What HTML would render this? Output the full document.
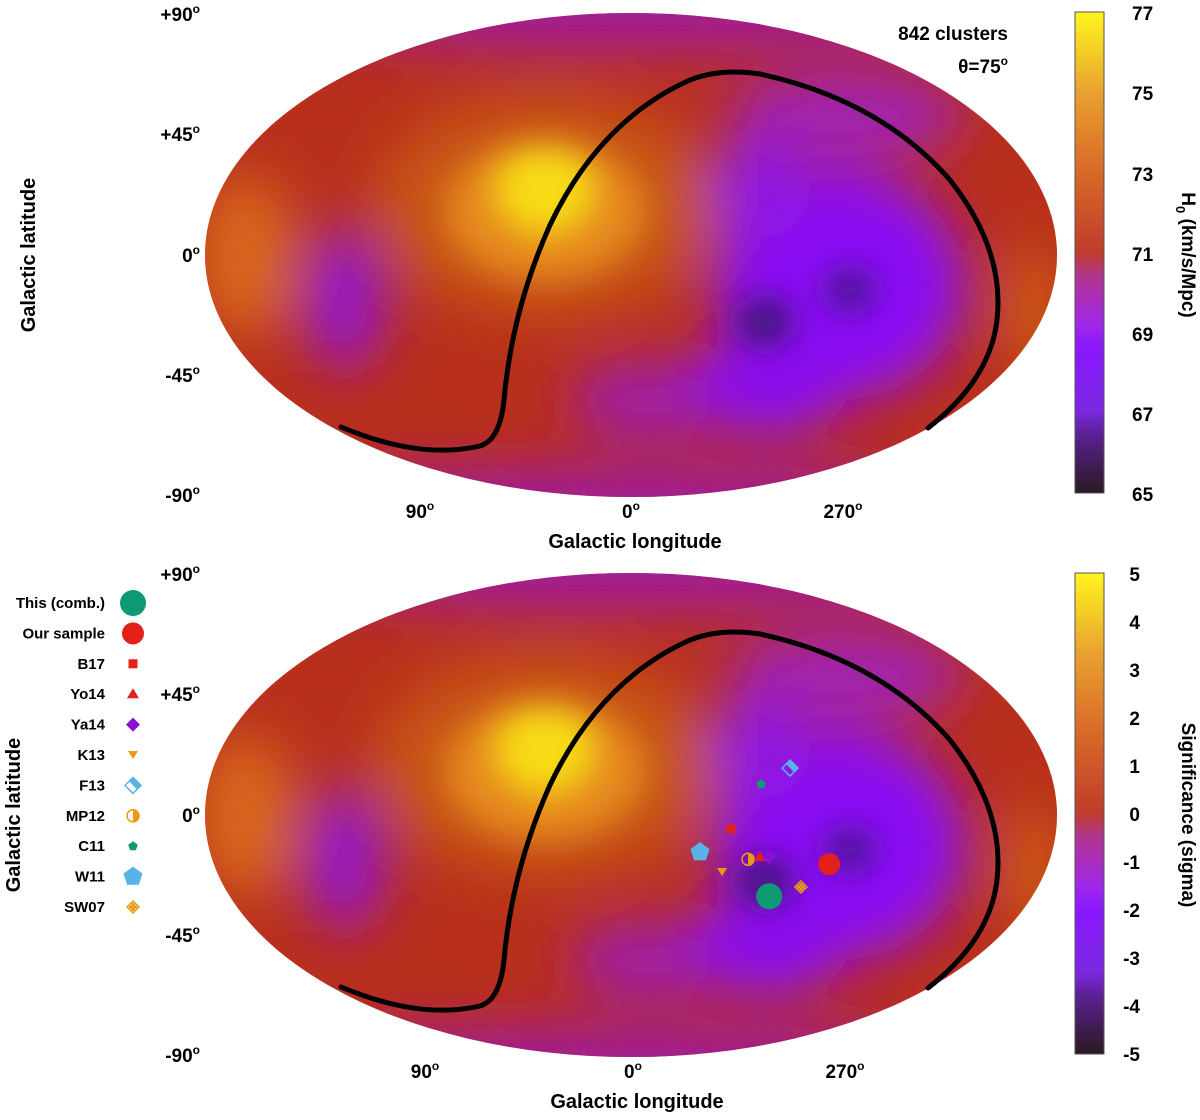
<!DOCTYPE html>
<html><head><meta charset="utf-8">
<style>
html,body{margin:0;padding:0;background:#fff;}
svg{display:block;font-family:"Liberation Sans",Arial,sans-serif;font-weight:bold;}
</style></head>
<body>
<svg id="fig" width="1200" height="1120" viewBox="0 0 1200 1120" xmlns="http://www.w3.org/2000/svg">
<defs>
  <clipPath id="ell"><ellipse cx="631" cy="255" rx="426" ry="242"/></clipPath>
  <filter id="bl" filterUnits="userSpaceOnUse" x="0" y="-200" width="1300" height="900"><feGaussianBlur stdDeviation="26"/></filter>
  <filter id="bl2" filterUnits="userSpaceOnUse" x="0" y="-200" width="1300" height="900"><feGaussianBlur stdDeviation="16"/></filter>
  <linearGradient id="cb" x1="0" y1="1" x2="0" y2="0">
    <stop offset="0" stop-color="#2a1a22"/>
    <stop offset="0.12" stop-color="#5a2090"/>
    <stop offset="0.17" stop-color="#7a28e0"/>
    <stop offset="0.3" stop-color="#8a18ff"/>
    <stop offset="0.35" stop-color="#a028e8"/>
    <stop offset="0.45" stop-color="#b03490"/>
    <stop offset="0.5" stop-color="#c03c2c"/>
    <stop offset="0.67" stop-color="#d86a28"/>
    <stop offset="0.83" stop-color="#e8a030"/>
    <stop offset="1" stop-color="#fff51e"/>
  </linearGradient>
  <g id="sky">
    <g clip-path="url(#ell)">
      <rect x="190" y="0" width="880" height="510" fill="#b8301c"/>
      <g filter="url(#bl)">
        <ellipse cx="631" cy="5" rx="430" ry="45" fill="#a01a98"/>
        <ellipse cx="631" cy="510" rx="430" ry="45" fill="#a01a98"/>
        <ellipse cx="845" cy="115" rx="120" ry="45" fill="#a020b0"/>
        <ellipse cx="245" cy="255" rx="50" ry="80" fill="#d8661c"/>
        <ellipse cx="1035" cy="310" rx="25" ry="65" fill="#d06018"/>
        <ellipse cx="545" cy="205" rx="170" ry="110" fill="#c85418"/>
        <ellipse cx="345" cy="300" rx="40" ry="72" fill="#9614c8"/>
        <ellipse cx="650" cy="400" rx="80" ry="40" fill="#a01aa8"/>
        <ellipse cx="840" cy="285" rx="125" ry="115" fill="#8a10f4"/>
        <ellipse cx="770" cy="385" rx="80" ry="50" fill="#8a10f0"/>
        <ellipse cx="760" cy="190" rx="50" ry="50" fill="#9014e0"/>
      </g>
      <g filter="url(#bl2)">
        <ellipse cx="545" cy="210" rx="100" ry="70" fill="#e68a1e"/>
        <ellipse cx="545" cy="190" rx="48" ry="42" fill="#f8dc18"/>
        <ellipse cx="765" cy="322" rx="28" ry="24" fill="#3e1470"/>
        <ellipse cx="850" cy="290" rx="26" ry="22" fill="#4a1490"/>
      </g>
    </g>
    <path d="M341,427 Q420,460 480,446 Q500,440 504,400 Q512,310 550,225 Q600,120 690,80 Q720,68 760,74 Q880,100 950,180 Q1005,250 997,320 Q990,380 928,428" fill="none" stroke="#000" stroke-width="5" stroke-linecap="round"/>
  </g>
</defs>

<g><use href="#sky"/></g>
<g><use href="#sky" transform="translate(0,560)"/></g>

<g font-size="19" text-anchor="end">
  <text x="200" y="21">+90<tspan dy="-8" font-size="12">o</tspan></text>
  <text x="200" y="141">+45<tspan dy="-8" font-size="12">o</tspan></text>
  <text x="200" y="262">0<tspan dy="-8" font-size="12">o</tspan></text>
  <text x="200" y="382">-45<tspan dy="-8" font-size="12">o</tspan></text>
  <text x="200" y="502">-90<tspan dy="-8" font-size="12">o</tspan></text>
</g>
<g font-size="19" text-anchor="middle">
  <text x="420" y="518">90<tspan dy="-8" font-size="12">o</tspan></text>
  <text x="631" y="518">0<tspan dy="-8" font-size="12">o</tspan></text>
  <text x="843" y="518">270<tspan dy="-8" font-size="12">o</tspan></text>
</g>
<text x="635" y="548" font-size="20" text-anchor="middle">Galactic longitude</text>
<text transform="translate(35,255) rotate(-90)" font-size="20" text-anchor="middle">Galactic latitude</text>
<text x="1008" y="40" font-size="19" text-anchor="end">842 clusters</text>
<text x="1008" y="73" font-size="19" text-anchor="end">θ=75<tspan dy="-8" font-size="12">o</tspan></text>

<rect x="1075" y="12" width="29" height="481" fill="url(#cb)" stroke="#555" stroke-width="1"/>
<g font-size="19">
  <text x="1132" y="20">77</text><text x="1132" y="100">75</text><text x="1132" y="181">73</text>
  <text x="1132" y="261">71</text><text x="1132" y="341">69</text><text x="1132" y="421">67</text><text x="1132" y="501">65</text>
</g>
<text transform="translate(1182,255) rotate(90)" font-size="19" text-anchor="middle">H<tspan dy="6" font-size="13">0</tspan><tspan dy="-6"> (km/s/Mpc)</tspan></text>

<g font-size="19" text-anchor="end">
  <text x="200" y="581">+90<tspan dy="-8" font-size="12">o</tspan></text>
  <text x="200" y="701">+45<tspan dy="-8" font-size="12">o</tspan></text>
  <text x="200" y="822">0<tspan dy="-8" font-size="12">o</tspan></text>
  <text x="200" y="942">-45<tspan dy="-8" font-size="12">o</tspan></text>
  <text x="200" y="1062">-90<tspan dy="-8" font-size="12">o</tspan></text>
</g>
<g font-size="19" text-anchor="middle">
  <text x="425" y="1078">90<tspan dy="-8" font-size="12">o</tspan></text>
  <text x="633" y="1078">0<tspan dy="-8" font-size="12">o</tspan></text>
  <text x="845" y="1078">270<tspan dy="-8" font-size="12">o</tspan></text>
</g>
<text x="637" y="1108" font-size="20" text-anchor="middle">Galactic longitude</text>
<text transform="translate(20,815) rotate(-90)" font-size="20" text-anchor="middle">Galactic latitude</text>

<rect x="1075" y="573" width="29" height="481" fill="url(#cb)" stroke="#555" stroke-width="1"/>
<g font-size="19" text-anchor="end">
  <text x="1140" y="581">5</text><text x="1140" y="629">4</text><text x="1140" y="677">3</text><text x="1140" y="725">2</text>
  <text x="1140" y="773">1</text><text x="1140" y="821">0</text><text x="1140" y="869">-1</text><text x="1140" y="917">-2</text>
  <text x="1140" y="965">-3</text><text x="1140" y="1013">-4</text><text x="1140" y="1061">-5</text>
</g>
<text transform="translate(1182,815) rotate(90)" font-size="19" text-anchor="middle">Significance (sigma)</text>

<g id="legend"></g>
<g id="markers"></g>

<script>
const labels = ["This (comb.)","Our sample","B17","Yo14","Ya14","K13","F13","MP12","C11","W11","SW07"];
const lons = [298, 274.5, 317.7, 304.7, 300.8, 320.4, 291.5, 309.7, 304.6, 330.5, 284.8];
const lats = [-24.8, -14.9, -4.2, -12.7, -12.7, -17.3, 14.2, -13.4, 9.3, -11.2, -21.9];
const kinds = ["bigcircle","redcircle","square","triangle","diamond","downtri","halfdiamond","halfcircle","smallpent","bigpent","sw07"];

const NS = "http://www.w3.org/2000/svg";
const CX = 631, CY = 815, RX = 426, RY = 242;
function proj(lon, lat) {
  let l = lon > 180 ? lon - 360 : lon;
  const phi = lat * Math.PI / 180;
  let th = phi;
  for (let i = 0; i < 50; i++) {
    const f = 2*th + Math.sin(2*th) - Math.PI*Math.sin(phi);
    const d = 2 + 2*Math.cos(2*th);
    if (Math.abs(d) < 1e-9) break;
    th -= f / d;
  }
  return [CX - RX * (l/180) * Math.cos(th), CY - RY * Math.sin(th)];
}
function mk(tag, attrs) {
  const e = document.createElementNS(NS, tag);
  for (const k in attrs) e.setAttribute(k, attrs[k]);
  return e;
}
function pent(x, y, r) {
  let p = [];
  for (let i = 0; i < 5; i++) { const a = -Math.PI/2 + i*2*Math.PI/5; p.push((x + r*Math.cos(a)).toFixed(1) + "," + (y + r*Math.sin(a)).toFixed(1)); }
  return p.join(" ");
}
function drawMarker(g, kind, x, y) {
  switch (kind) {
    case "bigcircle": g.appendChild(mk("circle", {cx:x, cy:y, r:13, fill:"#0d9a73"})); break;
    case "redcircle": g.appendChild(mk("circle", {cx:x, cy:y, r:11, fill:"#e4201a"})); break;
    case "square": g.appendChild(mk("rect", {x:x-4.5, y:y-4.5, width:9, height:9, fill:"#e4201a"})); break;
    case "triangle": g.appendChild(mk("polygon", {points:`${x},${y-6} ${x+6},${y+4} ${x-6},${y+4}`, fill:"#e4201a"})); break;
    case "diamond": g.appendChild(mk("polygon", {points:`${x},${y-7} ${x+7},${y} ${x},${y+7} ${x-7},${y}`, fill:"#8a10d8"})); break;
    case "downtri": g.appendChild(mk("polygon", {points:`${x-5},${y-4} ${x+5},${y-4} ${x},${y+4}`, fill:"#e89a10"})); break;
    case "halfdiamond":
      g.appendChild(mk("polygon", {points:`${x},${y-8} ${x+8},${y} ${x},${y+8} ${x-8},${y}`, fill:"none", stroke:"#58b4e8", "stroke-width":1.5}));
      g.appendChild(mk("polygon", {points:`${x},${y-8} ${x+8},${y} ${x+4},${y+4} ${x-4},${y-4}`, fill:"#58b4e8"})); break;
    case "halfcircle":
      g.appendChild(mk("circle", {cx:x, cy:y, r:6, fill:"none", stroke:"#e89a10", "stroke-width":1.5}));
      g.appendChild(mk("path", {d:`M${x},${y-6} A6,6 0 0 1 ${x},${y+6} Z`, fill:"#e89a10"})); break;
    case "smallpent": g.appendChild(mk("polygon", {points:pent(x,y,5), fill:"#0d9a73"})); break;
    case "bigpent": g.appendChild(mk("polygon", {points:pent(x,y,10), fill:"#58b4e8"})); break;
    case "sw07":
      g.appendChild(mk("polygon", {points:`${x},${y-6} ${x+6},${y} ${x},${y+6} ${x-6},${y}`, fill:"none", stroke:"#e89a10", "stroke-width":1.5}));
      g.appendChild(mk("circle", {cx:x, cy:y-2.2, r:1.8, fill:"#e89a10"}));
      g.appendChild(mk("circle", {cx:x, cy:y+2.2, r:1.8, fill:"#e89a10"}));
      g.appendChild(mk("circle", {cx:x-2.2, cy:y, r:1.8, fill:"#e89a10"}));
      g.appendChild(mk("circle", {cx:x+2.2, cy:y, r:1.8, fill:"#e89a10"})); break;
  }
}
const mg = document.getElementById("markers");
const lg = document.getElementById("legend");
for (let i = 0; i < labels.length; i++) {
  const [x, y] = proj(lons[i], lats[i]);
  const g = mk("g", {});
  
  
  drawMarker(g, kinds[i], x, y);
  mg.appendChild(g);
  const ly = 603 + i * 30.4;
  const le = mk("g", {});
  
  
  const t = mk("text", {x:105, y:ly + 5, "font-size":15, "text-anchor":"end"});
  t.textContent = labels[i];
  le.appendChild(t);
  drawMarker(le, kinds[i], 133, ly);
  lg.appendChild(le);
}
</script>
</svg>
</body></html>
